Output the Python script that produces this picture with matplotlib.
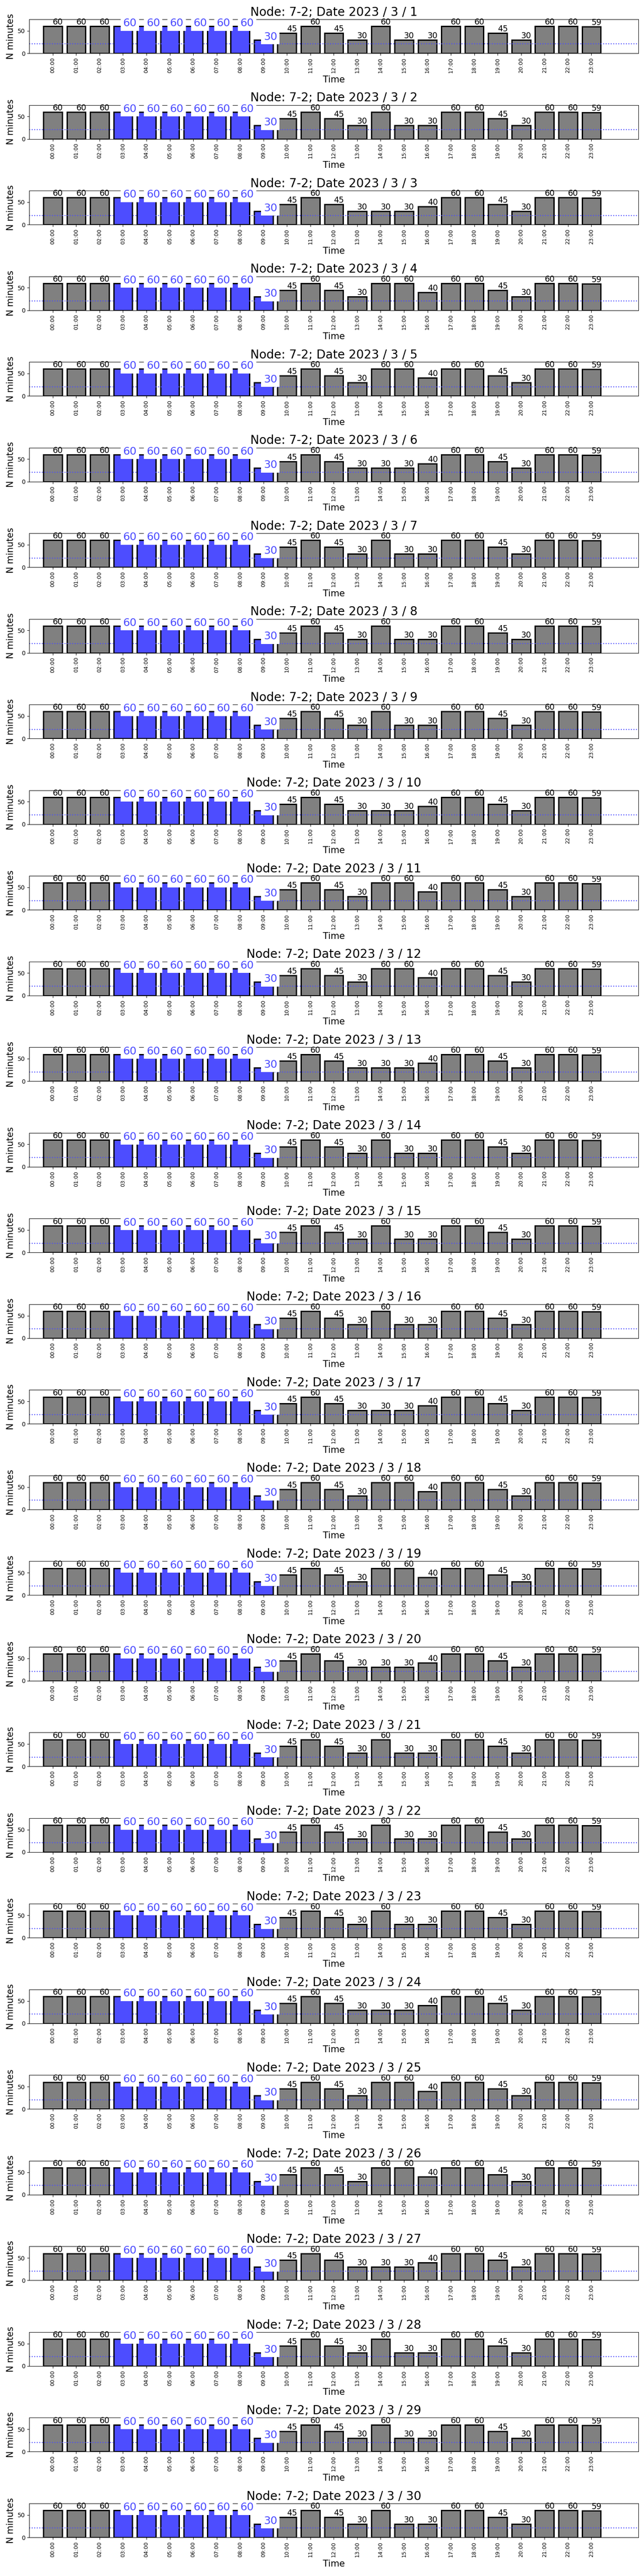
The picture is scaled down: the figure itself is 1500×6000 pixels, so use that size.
import matplotlib.pyplot as plt

# hour slots on the x axis
hours = ["00:00", "01:00", "02:00", "03:00", "04:00", "05:00", "06:00", "07:00",
         "08:00", "09:00", "10:00", "11:00", "12:00", "13:00", "14:00", "15:00",
         "16:00", "17:00", "18:00", "19:00", "20:00", "21:00", "22:00", "23:00"]
# highlighted (blue) slots
blue_hours = ["03:00", "04:00", "05:00", "06:00", "07:00", "08:00", "09:00"]

# 00:00 - 09:00 is the same every day
morning = [60, 60, 60, 60, 60, 60, 60, 60, 60, 30]
# 10:00 - 23:00, three weekly variants
rest_a = [45, 60, 45, 30, 60, 30, 30, 60, 60, 45, 30, 60, 60, 59]
rest_b = [45, 60, 45, 30, 30, 30, 40, 60, 60, 45, 30, 60, 60, 59]
rest_c = [45, 60, 45, 30, 60, 60, 40, 60, 60, 45, 30, 60, 60, 59]
rests = {"A": rest_a, "B": rest_b, "C": rest_c}

days = list(range(1, 31))
day_variant = "AABCCBAAABCCBAAABCCBAAABCCBAAA"

threshold = 20.6

blue = '#4d4dff'

fig, axes = plt.subplots(30, 1, figsize=(15, 60), dpi=100)
fig.subplots_adjust(left=0.0455, right=0.991, top=0.9925, bottom=0.015, hspace=1.525)

for ax, day, key in zip(axes, days, day_variant):
    values = morning + rests[key]
    x = list(range(len(hours)))
    colors = [blue if h in blue_hours else 'gray' for h in hours]
    ax.bar(x, values, width=0.8, color=colors, edgecolor='black', linewidth=2.2)
    ax.axhline(threshold, color=blue, linestyle=':', linewidth=1.6)

    for i, (h, v) in enumerate(zip(hours, values)):
        if h in blue_hours:
            ax.text(i, v, str(v), ha='left', va='baseline', fontsize=18, color=blue,
                    bbox=dict(facecolor='white', edgecolor='none'))
        else:
            ax.text(i, v, str(v), ha='left', va='bottom', fontsize=13.5, color='black')

    ax.set_xlim(-1, 25)
    ax.set_ylim(0, 75.6)
    ax.set_xticks(x)
    ax.set_xticklabels(hours, rotation=90, fontsize=9)
    ax.set_yticks([0, 50])
    ax.tick_params(axis='y', labelsize=10)
    ax.set_title(f"Node: 7-2; Date 2023 / 3 / {day}", fontsize=20)
    ax.set_xlabel("Time", fontsize=15)
    ax.set_ylabel("N minutes", fontsize=15)

fig.savefig('out.png')
